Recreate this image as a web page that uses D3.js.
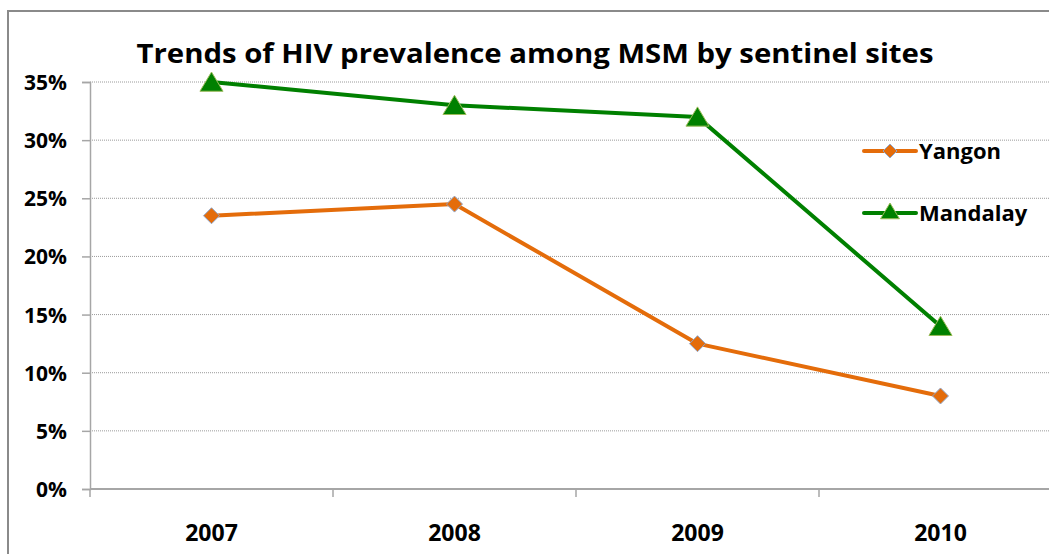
<!DOCTYPE html>
<html><head><meta charset="utf-8">
<script src="https://d3js.org/d3.v7.min.js"></script>
<style>body{margin:0;background:#fff;}svg{display:block;}</style>
</head><body>
<script>
const categories = ["2007", "2008", "2009", "2010"];
const seriesNames = ["Yangon", "Mandalay"];
const yangon = [23.5, 24.5, 12.5, 8.0];
const mandalay = [35, 33, 32, 14];
const yTicks = [0, 5, 10, 15, 20, 25, 30, 35];
const titleText = "Trends of HIV prevalence among MSM by sentinel sites";

(function () {
const W = 1049, H = 554;
const FONT = "'Open Sans', 'DejaVu Sans', sans-serif";
const svg = d3.select("body").append("svg").attr("width", W).attr("height", H);
svg.append("rect").attr("width", W).attr("height", H).attr("fill", "#fff");
// frame
svg.append("rect").attr("x", 8).attr("y", 11).attr("width", W + 20).attr("height", H + 20)
  .attr("fill", "none").attr("stroke", "#8a8a8a").attr("stroke-width", 2);

const plotLeft = 90, bandW = 243, plotTop = 82, plotBottom = 489;
const x = d3.scaleBand().domain(categories).range([plotLeft, plotLeft + bandW * categories.length]).padding(0);
const y = d3.scaleLinear().domain([0, 35]).range([plotBottom, plotTop]);

// gridlines
svg.append("g").selectAll("line").data(yTicks.filter(d => d > 0)).join("line")
  .attr("x1", plotLeft).attr("x2", W).attr("y1", d => y(d)).attr("y2", d => y(d))
  .attr("stroke", "#9a9a9a").attr("stroke-width", 1).attr("stroke-dasharray", "1,1");

// y axis
const yAxis = svg.append("g").attr("transform", `translate(${plotLeft},0)`)
  .call(d3.axisLeft(y).tickValues(yTicks).tickFormat(d => d + "%").tickSize(8).tickPadding(15));
yAxis.select(".domain").attr("stroke", "#a6a6a6").attr("stroke-width", 1.5);
yAxis.selectAll(".tick line").attr("stroke", "#a6a6a6").attr("stroke-width", 1.5);
yAxis.selectAll("text").attr("font-family", FONT).attr("font-weight", "bold").attr("font-size", 21).attr("fill", "#000").attr("dy", "0.36em");

// x axis
const xAxis = svg.append("g").attr("transform", `translate(0,${plotBottom})`);
xAxis.append("line").attr("x1", plotLeft).attr("x2", W).attr("y1", 0).attr("y2", 0)
  .attr("stroke", "#a6a6a6").attr("stroke-width", 2);
xAxis.selectAll("line.tk").data(categories.map((c, i) => i)).join("line").attr("class", "tk")
  .attr("x1", i => plotLeft + i * x.bandwidth()).attr("x2", i => plotLeft + i * x.bandwidth())
  .attr("y1", 0).attr("y2", 8).attr("stroke", "#a6a6a6").attr("stroke-width", 1.5);
xAxis.selectAll("text").data(categories).join("text")
  .attr("x", d => x(d) + x.bandwidth() / 2).attr("y", 52)
  .attr("text-anchor", "middle").attr("font-family", FONT).attr("font-weight", "bold")
  .attr("font-size", 23).attr("fill", "#000").text(d => d);

// title
svg.append("text").attr("x", 535).attr("y", 63).attr("text-anchor", "middle")
  .attr("font-family", FONT).attr("font-weight", "bold").attr("font-size", 26)
  .attr("textLength", 797).attr("lengthAdjust", "spacingAndGlyphs")
  .attr("fill", "#000").text(titleText);

const cx = d => x(d) + x.bandwidth() / 2;
const line = d3.line().x(d => cx(d.c)).y(d => y(d.v));
const orange = "#E46C0A", green = "#008000";

function series(vals, color) {
  const pts = categories.map((c, i) => ({ c, v: vals[i] }));
  svg.append("path").datum(pts).attr("d", line).attr("fill", "none")
    .attr("stroke", color).attr("stroke-width", 4).attr("stroke-linejoin", "round");
  return pts;
}
const yp = series(yangon, orange);
const mp = series(mandalay, green);

function diamondPath(cxv, cyv, s) {
  return `M${cxv},${cyv - s}L${cxv + s},${cyv}L${cxv},${cyv + s}L${cxv - s},${cyv}Z`;
}
function triPath(cxv, cyv, s) {
  return `M${cxv},${cyv - s}L${cxv + s * 1.05},${cyv + s * 0.75}L${cxv - s * 1.05},${cyv + s * 0.75}Z`;
}
svg.append("g").selectAll("path").data(yp).join("path")
  .attr("d", d => diamondPath(cx(d.c), y(d.v), 8))
  .attr("fill", orange).attr("stroke", "#8ea6cc").attr("stroke-width", 1);
svg.append("g").selectAll("path").data(mp).join("path")
  .attr("d", d => triPath(cx(d.c), y(d.v) + 1, 11))
  .attr("fill", green).attr("stroke", "#9bbb59").attr("stroke-width", 1);

// legend
const legend = [
  { name: seriesNames[0], color: orange, y: 151, type: "d" },
  { name: seriesNames[1], color: green, y: 213, type: "t" }
];
legend.forEach(l => {
  svg.append("line").attr("x1", 864).attr("x2", 916).attr("y1", l.y).attr("y2", l.y)
    .attr("stroke", l.color).attr("stroke-width", 4).attr("stroke-linecap", "round");
  if (l.type === "d") {
    svg.append("path").attr("d", diamondPath(890, l.y, 7)).attr("fill", orange).attr("stroke", "#8ea6cc");
  } else {
    svg.append("path").attr("d", triPath(890, l.y - 1, 9)).attr("fill", green).attr("stroke", "#9bbb59");
  }
  svg.append("text").attr("x", 919).attr("y", l.y + 8).attr("font-family", FONT)
    .attr("font-weight", "bold").attr("font-size", 22).attr("fill", "#000").text(l.name);
});
})();
</script>
</body></html>
